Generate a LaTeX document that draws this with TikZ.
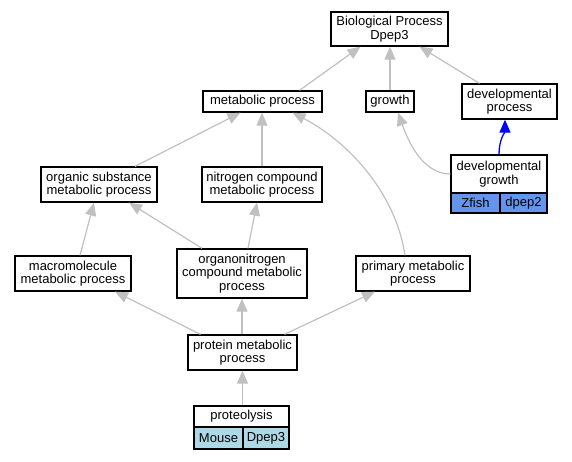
\documentclass[tikz,border=0pt]{standalone}
\usepackage{fontspec}
\setmainfont{Liberation Sans}
\usetikzlibrary{arrows.meta}
\definecolor{edgegray}{HTML}{C0C0C0}
\definecolor{zfish}{HTML}{6495ED}
\definecolor{mouse}{HTML}{ADD8E6}
\tikzset{
  box/.style={draw=black, line width=1.3pt, inner sep=0pt, align=center,
    font=\fontsize{13}{13.5}\selectfont, fill=white},
  edge/.style={draw=edgegray, line width=1.2pt, -{Triangle[length=13pt,width=11pt]}},
  blueedge/.style={draw=blue, line width=1.3pt, -{Triangle[length=13pt,width=11pt]}}
}
\begin{document}
\begin{tikzpicture}[x=1pt,y=-1pt]
\useasboundingbox (0,0) rectangle (572,461);
% nodes
\node[box, minimum width=117pt, minimum height=34pt] (bp) at (389.5,29) {Biological Process\\Dpep3};
\node[box, minimum width=119pt, minimum height=21pt] (ms) at (262.5,101.5) {metabolic process};
\node[box, minimum width=48pt, minimum height=21pt] (gr) at (390,101.5) {growth};
\node[box, minimum width=95pt, minimum height=35pt] (dp) at (509.5,101.5) {developmental\\process};
\node[box, minimum width=116pt, minimum height=35pt] (os) at (99,184.5) {organic substance\\metabolic process};
\node[box, minimum width=120pt, minimum height=35pt] (nc) at (262,184.5) {nitrogen compound\\metabolic process};
\node[box, minimum width=96pt, minimum height=38pt] (dg) at (499,174) {developmental\\growth};
\node[box, fill=zfish, minimum width=49pt, minimum height=20pt] (dgz) at (475.5,203) {Zfish};
\node[box, fill=zfish, minimum width=47pt, minimum height=20pt] (dgd) at (523.5,203) {dpep2};
\node[box, minimum width=116pt, minimum height=35pt] (mm) at (73,273.5) {macromolecule\\metabolic process};
\node[box, minimum width=130pt, minimum height=49pt] (on) at (242,273.5) {organonitrogen\\compound metabolic\\process};
\node[box, minimum width=114pt, minimum height=35pt] (pm) at (413,273.5) {primary metabolic\\process};
\node[box, minimum width=109pt, minimum height=35pt] (pp) at (242.5,352.5) {protein metabolic\\process};
\node[box, minimum width=95pt, minimum height=21pt] (pl) at (241.5,416.5) {proteolysis};
\node[box, fill=mouse, minimum width=49pt, minimum height=22pt] (plm) at (218.5,438) {Mouse};
\node[box, fill=mouse, minimum width=46pt, minimum height=22pt] (pld) at (266,438) {Dpep3};
% edges
\draw[edge] ([xshift=37pt]ms.north) -- ([xshift=-29pt]bp.south);
\draw[edge] (gr.north) -- (gr.north |- bp.south);
\draw[edge] ([xshift=-30pt]dp.north) -- ([xshift=30pt]bp.south);
\draw[blueedge] (dg.north) .. controls +(0,-15) and +(0,12) .. ([xshift=-4.5pt]dp.south);
\draw[edge] (dg.west) .. controls +(-28,0) and +(10,28) .. ([xshift=8pt]gr.south);
\draw[edge] ([xshift=36pt]os.north) -- ([xshift=-22pt]ms.south);
\draw[edge] (nc.north) -- (nc.north |- ms.south);
\draw[edge] ([xshift=-8pt]pm.north) .. controls +(-10,-66) and +(52,27) .. ([xshift=30pt]ms.south);
\draw[edge] ([xshift=7pt]mm.north) -- ([xshift=-5pt]os.south);
\draw[edge] ([xshift=-40pt]on.north) -- ([xshift=30pt]os.south);
\draw[edge] ([xshift=6pt]on.north) -- ([xshift=-5pt]nc.south);
\draw[edge] ([xshift=-42pt]pp.north) -- ([xshift=42pt]mm.south);
\draw[edge] (pp.north -| on.south) -- (on.south);
\draw[edge] ([xshift=42pt]pp.north) -- ([xshift=-38pt]pm.south);
\draw[edge] (pl.north -| pp.south) -- (pp.south);
\end{tikzpicture}
\end{document}
